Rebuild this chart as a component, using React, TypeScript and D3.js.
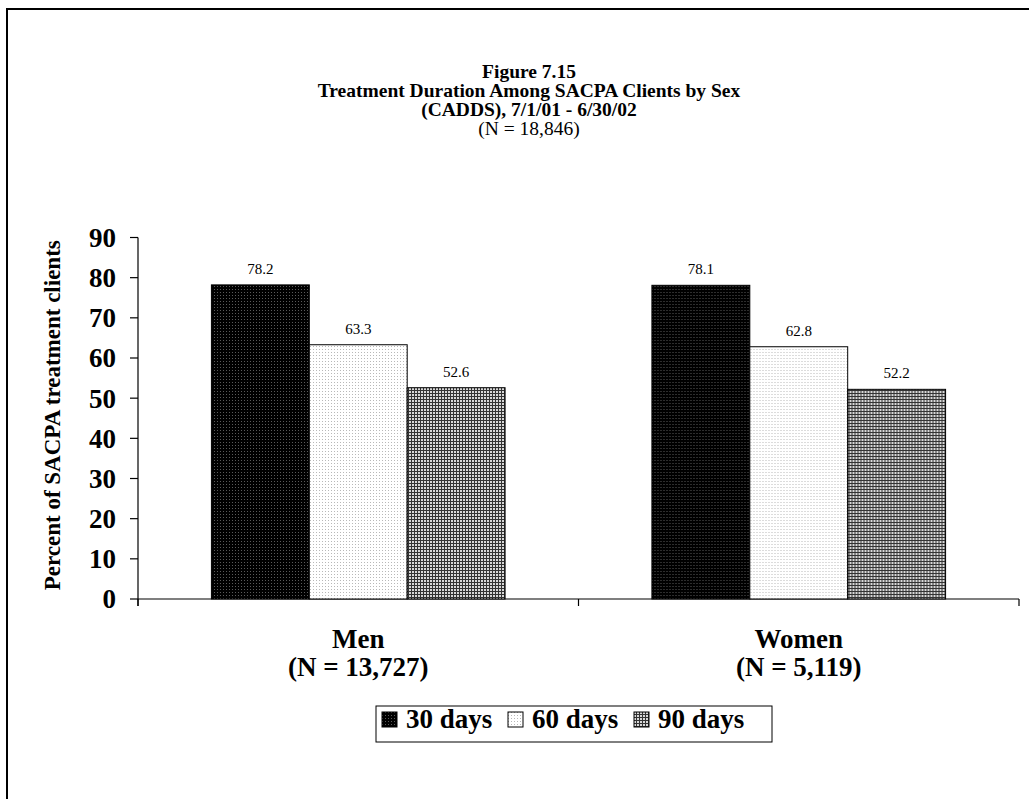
import React from "react";
import * as d3 from "d3";

const titleLines = ["Figure 7.15", "Treatment Duration Among SACPA Clients by Sex", "(CADDS), 7/1/01 - 6/30/02"];
const subtitle = "(N = 18,846)";
const categories = ["Men", "Women"];
const categoryN = ["(N = 13,727)", "(N = 5,119)"];
const seriesNames = ["30 days", "60 days", "90 days"];
const days30 = [78.2, 78.1];
const days60 = [63.3, 62.8];
const days90 = [52.6, 52.2];
const yTicks = [0, 10, 20, 30, 40, 50, 60, 70, 80, 90];
const yLabel = "Percent of SACPA treatment clients";

const seriesValues = [days30, days60, days90];
const fills = ["url(#p30)", "url(#p60)", "url(#p90)"];
const FONT = "'Liberation Serif', 'Times New Roman', serif";

export default function App() {
  const W = 1029, H = 799;
  const left = 138, right = 1019, top = 237.5, bottom = 599;
  const x0 = d3.scaleBand<string>().domain(categories).range([left, right]).padding(0);
  const x1 = d3.scaleBand<string>().domain(seriesNames).range([0, x0.bandwidth()]).paddingInner(0).paddingOuter(0.75);
  const y = d3.scaleLinear().domain([0, 90]).range([bottom, top]);

  const legendItemsX = [381, 507, 633];

  return (
    <svg width={W} height={H} style={{ position: "absolute", left: 0, top: 0, background: "#fff" }} fontFamily={FONT}>
      <defs>
        <pattern id="p30" width="3" height="3" patternUnits="userSpaceOnUse">
          <rect width="3" height="3" fill="#000" />
          <rect x="1" y="1" width="1" height="1" fill="#5a5a5a" />
        </pattern>
        <pattern id="p60" width="3" height="3" patternUnits="userSpaceOnUse">
          <rect width="3" height="3" fill="#fff" />
          <rect x="1" y="1" width="1" height="1" fill="#b8b8b8" />
        </pattern>
        <pattern id="p90" width="3" height="3" patternUnits="userSpaceOnUse">
          <rect width="3" height="3" fill="#d8d8d8" />
          <rect x="0" y="0" width="3" height="1" fill="#333" />
          <rect x="0" y="0" width="1" height="3" fill="#333" />
        </pattern>
      </defs>
      <rect x={0} y={0} width={W} height={H} fill="#fff" />
      <rect x={7} y={9} width={W + 20} height={H + 20} fill="none" stroke="#000" strokeWidth={2} />

      {/* Title */}
      {titleLines.map((t, i) => (
        <text key={t} x={529} y={78 + i * 19} textAnchor="middle" fontWeight="bold" fontSize={19.5}>{t}</text>
      ))}
      <text x={529} y={78 + 3 * 19} textAnchor="middle" fontSize={19.5}>{subtitle}</text>

      {/* Y axis */}
      <line x1={left} x2={left} y1={y(90)} y2={bottom + 7} stroke="#000" strokeWidth={1.2} />
      {yTicks.map((t) => (
        <g key={t}>
          <line x1={left - 8} x2={left} y1={y(t)} y2={y(t)} stroke="#000" strokeWidth={1.2} />
          <text x={116} y={y(t)} dy="0.35em" textAnchor="end" fontWeight="bold" fontSize={27}>{t}</text>
        </g>
      ))}
      <text transform={`translate(60, ${(top + bottom) / 2 - 3}) rotate(-90)`} textAnchor="middle" fontWeight="bold" fontSize={23}>{yLabel}</text>

      {/* X axis */}
      <line x1={left} x2={right} y1={bottom} y2={bottom} stroke="#000" strokeWidth={1.2} />
      {[left, ...categories.map((c) => (x0(c) as number) + x0.bandwidth())].map((px, i) => (
        <line key={i} x1={px} x2={px} y1={bottom} y2={bottom + 7} stroke="#000" strokeWidth={1.2} />
      ))}

      {/* Bars */}
      {categories.map((c, ci) => (
        <g key={c} transform={`translate(${x0(c)},0)`}>
          {seriesNames.map((s, si) => {
            const v = seriesValues[si][ci];
            const bx = x1(s) as number;
            return (
              <g key={s}>
                <rect x={bx} y={y(v)} width={x1.bandwidth()} height={bottom - y(v)} fill={fills[si]} stroke="#000" strokeWidth={1} />
                <text x={bx + x1.bandwidth() / 2} y={y(v) - 11} textAnchor="middle" fontSize={15}>{v.toFixed(1)}</text>
              </g>
            );
          })}
          <text x={x0.bandwidth() / 2} y={648} textAnchor="middle" fontWeight="bold" fontSize={27}>{c}</text>
          <text x={x0.bandwidth() / 2} y={676} textAnchor="middle" fontWeight="bold" fontSize={27}>{categoryN[ci]}</text>
        </g>
      ))}

      {/* Legend */}
      <rect x={376} y={706} width={396} height={36} fill="#fff" stroke="#000" strokeWidth={1} />
      {seriesNames.map((s, i) => (
        <g key={s}>
          <rect x={legendItemsX[i] + 1} y={712} width={15} height={15} fill={fills[i]} stroke="#000" strokeWidth={1} />
          <text x={legendItemsX[i] + 25} y={728} fontWeight="bold" fontSize={27}>{s}</text>
        </g>
      ))}
    </svg>
  );
}
